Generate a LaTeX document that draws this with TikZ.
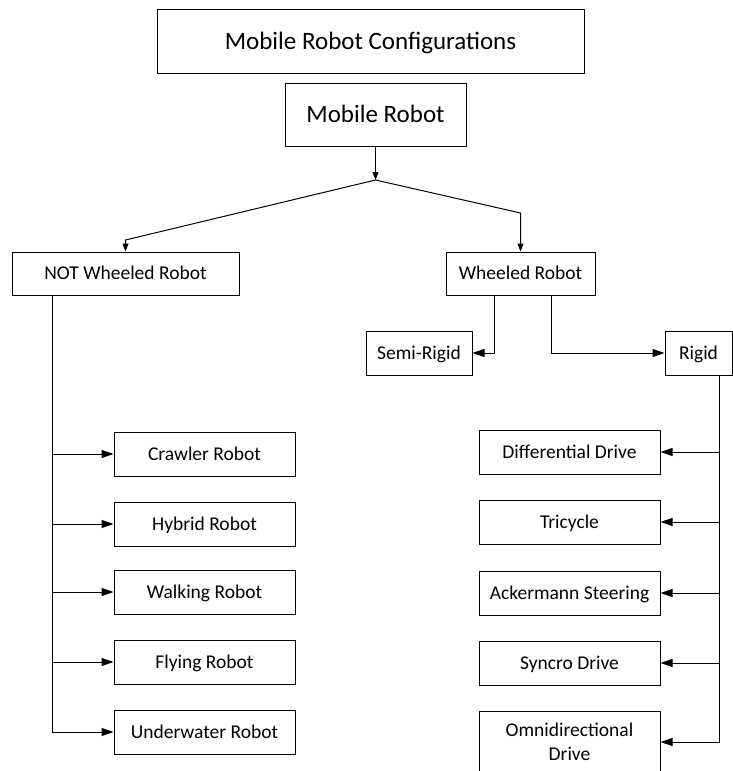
\documentclass[tikz,border=0pt]{standalone}
\usepackage{fontspec}
\setmainfont{Carlito}
\usetikzlibrary{arrows.meta}
\begin{document}
\begin{tikzpicture}[x=1pt,y=-1pt,
  box/.style={draw=black, line width=1pt, inner sep=0pt, minimum height=44pt,
    font=\fontsize{19.5}{23.8}\selectfont, text height=12.6pt, text depth=0pt},
  bigbox/.style={draw=black, line width=1pt, inner sep=0pt,
    font=\fontsize{25}{30}\selectfont, text height=16pt, text depth=0pt},
  conn/.style={draw=black, line width=1pt},
  arrS/.style={conn, -{Triangle[length=8pt,width=6pt]}},
  arrL/.style={conn, -{Triangle[length=12pt,width=8pt]}}]
\useasboundingbox (0,0) rectangle (733,771);
\clip (0,0) rectangle (733,771);
\fill[white] (0,0) rectangle (733,771);

\node[bigbox, minimum width=427pt, minimum height=64pt] (title) at (370.5,41) {Mobile Robot Configurations};
\node[bigbox, minimum width=181pt, minimum height=63pt] (mr) at (375.5,114.5) {Mobile Robot};

\node[box, minimum width=227pt, minimum height=43pt] (nw) at (125.5,273.5) {NOT Wheeled Robot};
\node[box, minimum width=149pt, minimum height=43pt] (w) at (520.5,273.5) {Wheeled Robot};
\node[box, minimum width=106pt] (sr) at (419,353) {Semi-Rigid};
\node[box, minimum width=67pt] (rg) at (698.5,353) {Rigid};

\node[box, minimum width=181pt] (c1) at (204.5,454) {Crawler Robot};
\node[box, minimum width=181pt] (c2) at (204.5,524) {Hybrid Robot};
\node[box, minimum width=181pt] (c3) at (204.5,592) {Walking Robot};
\node[box, minimum width=181pt] (c4) at (204.5,662) {Flying Robot};
\node[box, minimum width=181pt] (c5) at (204.5,732) {Underwater Robot};

\node[box, minimum width=181pt] (d1) at (569.5,452) {Differential Drive};
\node[box, minimum width=181pt] (d2) at (569.5,522) {Tricycle};
\node[box, minimum width=181pt] (d3) at (569.5,593) {Ackermann Steering};
\node[box, minimum width=181pt] (d4) at (569.5,663) {Syncro Drive};
\node[draw=black, line width=1pt, inner sep=0pt, minimum width=181pt, minimum height=62pt,
  align=center, font=\fontsize{19.5}{23.8}\selectfont] (d5) at (569.5,742) {Omnidirectional\\Drive};

\coordinate (j) at (375.5,180);
\coordinate (cl) at (125.5,240);
\coordinate (cr) at (520.5,213);

\draw[arrS] (mr.south) -- (j);
\draw[arrS] (j) -- (cl) -- (nw.north);
\draw[arrS] (j) -- (cr) -- (w.north);

\draw[arrL] ([xshift=-26.5pt]w.south) |- (sr.east);
\draw[arrL] ([xshift=30.5pt]w.south) |- (rg.west);

\foreach \c in {c1,c2,c3,c4,c5}
  \draw[arrL] ([xshift=-73.5pt]nw.south) |- (\c.west);
\foreach \d in {d1,d2,d3,d4,d5}
  \draw[arrL] ([xshift=20.5pt]rg.south) |- (\d.east);
\end{tikzpicture}
\end{document}
